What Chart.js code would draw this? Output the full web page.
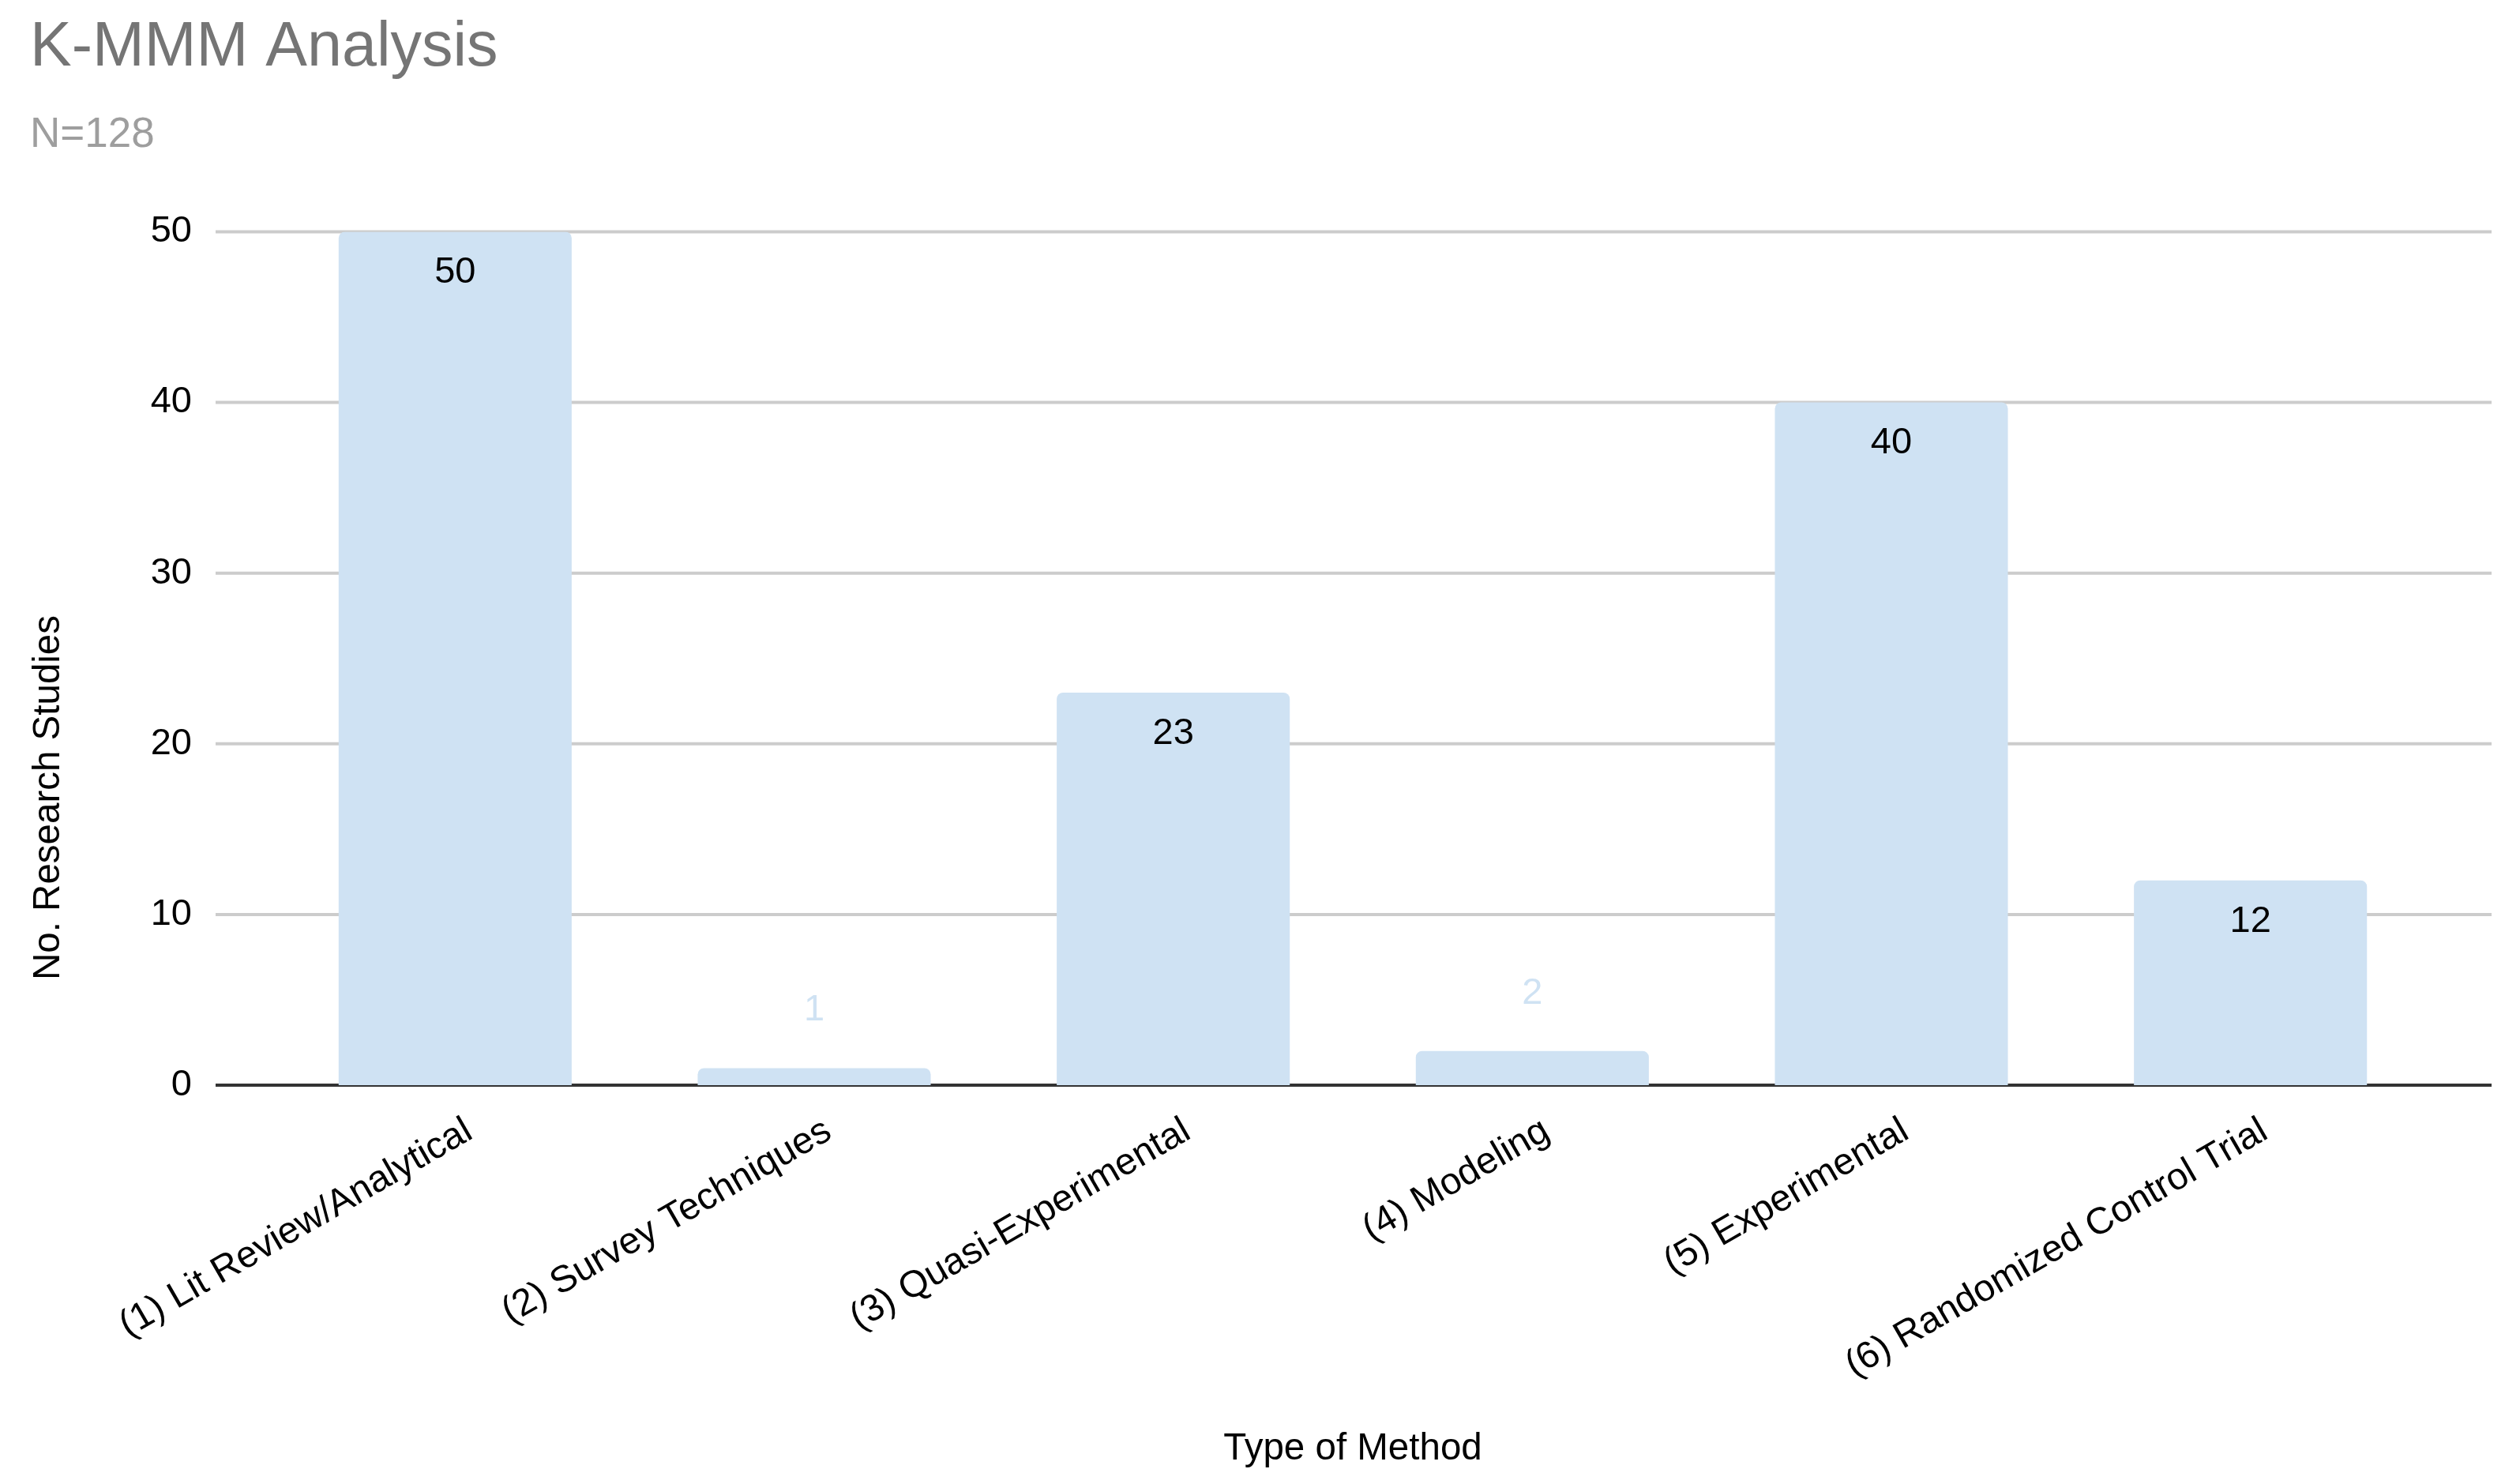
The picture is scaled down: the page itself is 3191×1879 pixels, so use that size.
<!DOCTYPE html>
<html>
<head>
<meta charset="utf-8">
<title>K-MMM Analysis</title>
<script src="https://cdn.jsdelivr.net/npm/chart.js@4.4.0/dist/chart.umd.min.js"></script>
<style>
    html, body { margin: 0; padding: 0; background: #ffffff; }
    #wrap { width: 3191px; height: 1879px; }
</style>
</head>
<body>
<div id="wrap"><canvas id="methodChart" width="3191" height="1879"></canvas></div>
<script>
const categories = [
    '(1) Lit Review/Analytical',
    '(2) Survey Techniques',
    '(3) Quasi-Experimental',
    '(4) Modeling',
    '(5) Experimental',
    '(6) Randomized Control Trial'
];
const studyCounts = [50, 1, 23, 2, 40, 12];
const yTickValues = [0, 10, 20, 30, 40, 50];

const FONT = "'Liberation Sans', Arial, sans-serif";
const BAR_COLOR = '#cfe2f3';

Chart.defaults.font.family = FONT;
Chart.defaults.color = '#000000';

// gridlines run a bit past the plot on both sides, like the sheet export
const gridPlugin = {
    id: 'gridLines',
    beforeDatasetsDraw(chart) {
        const { ctx, chartArea, scales: { y } } = chart;
        ctx.save();
        y.ticks.forEach(t => {
            const py = y.getPixelForValue(t.value);
            ctx.beginPath();
            ctx.strokeStyle = t.value === 0 ? '#333333' : '#cccccc';
            ctx.lineWidth = 4;
            ctx.moveTo(chartArea.left - 76, py);
            ctx.lineTo(chartArea.right + 78, py);
            ctx.stroke();
        });
        ctx.restore();
    }
};

// value labels: inside the top of tall bars, above short ones
const valueLabels = {
    id: 'valueLabels',
    afterDatasetsDraw(chart) {
        const { ctx } = chart;
        const meta = chart.getDatasetMeta(0);
        ctx.save();
        ctx.font = '47px ' + FONT;
        ctx.textAlign = 'center';
        ctx.textBaseline = 'middle';
        meta.data.forEach((bar, i) => {
            const h = bar.base - bar.y;
            if (h > 100) {
                ctx.fillStyle = '#000000';
                ctx.fillText(String(studyCounts[i]), bar.x, bar.y + 52);
            } else {
                ctx.fillStyle = BAR_COLOR;
                ctx.fillText(String(studyCounts[i]), bar.x, bar.y - 73);
            }
        });
        ctx.restore();
    }
};

const yTitle = {
    id: 'yTitle',
    afterDraw(chart) {
        const { ctx } = chart;
        ctx.save();
        ctx.translate(62, 1010);
        ctx.rotate(-Math.PI / 2);
        ctx.font = '47.5px ' + FONT;
        ctx.fillStyle = '#000000';
        ctx.textAlign = 'center';
        ctx.textBaseline = 'middle';
        ctx.fillText('No. Research Studies', 0, 0);
        ctx.restore();
    }
};

const ctx = document.getElementById('methodChart').getContext('2d');
new Chart(ctx, {
    type: 'bar',
    data: {
        labels: categories,
        datasets: [{
            data: studyCounts,
            backgroundColor: BAR_COLOR,
            borderWidth: 0,
            borderRadius: 8,
            borderSkipped: 'start',
            categoryPercentage: 1,
            barPercentage: 0.649
        }]
    },
    options: {
        responsive: false,
        devicePixelRatio: 1,
        animation: false,
        layout: { padding: { left: 38, right: 114, top: 0, bottom: 0 } },
        scales: {
            x: {
                grid: { display: false, drawTicks: false },
                border: { display: false },
                ticks: {
                    autoSkip: false,
                    minRotation: 30,
                    maxRotation: 30,
                    padding: 30,
                    labelOffset: 18,
                    color: '#000000',
                    font: { size: 47.5 }
                },
                title: {
                    display: true,
                    text: 'Type of Method',
                    color: '#000000',
                    font: { size: 47.5 },
                    padding: { top: 0, bottom: 16 }
                },
                afterFit(scale) { scale.height = 505; }
            },
            y: {
                min: 0,
                max: 50,
                grid: { display: false, drawTicks: false },
                border: { display: false },
                ticks: {
                    padding: 106,
                    color: '#000000',
                    font: { size: 47 }
                },
                afterBuildTicks(scale) {
                    scale.ticks = yTickValues.map(v => ({ value: v }));
                },
                afterFit(scale) { scale.width = 311; }
            }
        },
        plugins: {
            legend: { display: false },
            tooltip: { enabled: false },
            title: {
                display: true,
                text: 'K-MMM Analysis',
                align: 'start',
                color: '#757575',
                font: { size: 79, weight: 'normal', lineHeight: 1.2 },
                padding: { top: 14, bottom: 31 }
            },
            subtitle: {
                display: true,
                text: 'N=128',
                align: 'start',
                color: '#9e9e9e',
                font: { size: 53, weight: 'normal', lineHeight: 1.2 },
                padding: { top: 0, bottom: 90 }
            }
        }
    },
    plugins: [gridPlugin, valueLabels, yTitle]
});
</script>
</body>
</html>
